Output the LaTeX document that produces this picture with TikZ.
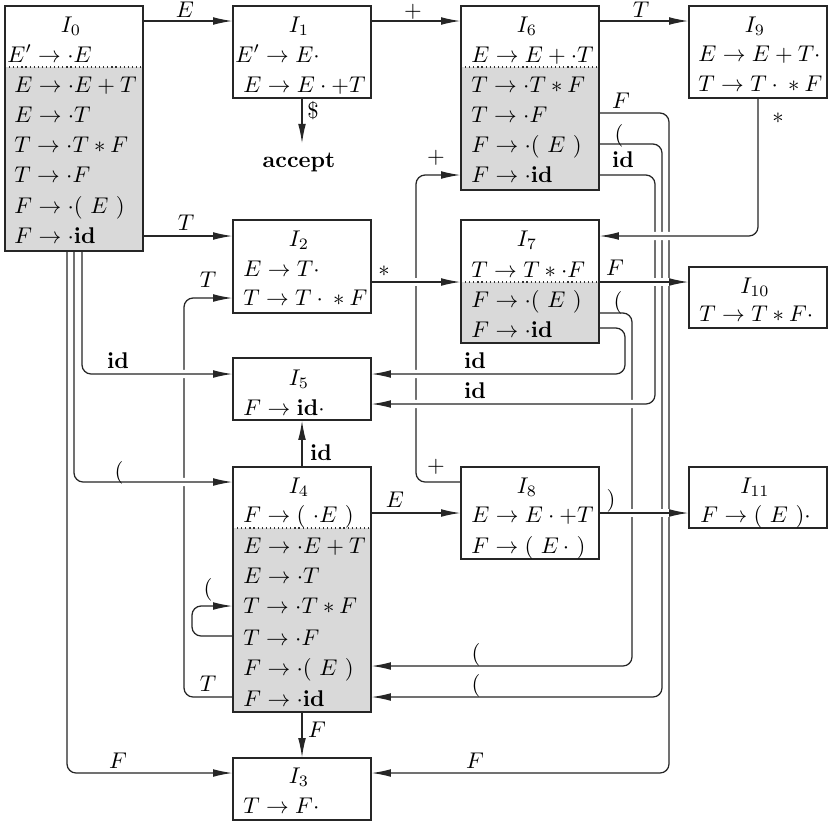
\documentclass[tikz,border=0pt]{standalone}
\usetikzlibrary{arrows.meta,fit}
\pgfdeclarelayer{fg}
\pgfsetlayers{main,fg}
\tikzset{
  statebox/.style={draw=black!85, line width=0.55pt, inner sep=0pt},
  closure/.style={fill=black!15},
  sepline/.style={draw=black!80, line width=0.55pt, dash pattern=on 0.5pt off 1.3pt},
  item/.style={anchor=base west, inner sep=0pt},
  ttl/.style={anchor=base, inner sep=0pt},
  lbl/.style={anchor=base, inner sep=0pt},
  edge/.style={draw=black!85, line width=0.55pt, rounded corners=4pt,
     -{Latex[length=8.5pt,width=3.4pt]},
     preaction={draw=white, line width=3.6pt, -}},
}
\begin{document}
\begin{tikzpicture}[x=0.44pt,y=-0.44pt]
\path[fill=white,use as bounding box] (0,0) rectangle (828,823);

\begin{pgfonlayer}{fg}
% ---------- I0
\fill[closure] (5,67) rectangle (143,251);
\draw[sepline] (5,67) -- (143,67);
\node[statebox, fit={(5,6) (143,251)}] (I0) {};
\node[ttl] (t0) at (71,32) {$I_0$};
\node[item] (I0a) at (7,62) {$E'\to\cdot E$};
\node[item] (I0b) at (14,92) {$E\to\cdot E+T$};
\node[item] (I0c) at (14,122) {$E\to\cdot T$};
\node[item] (I0d) at (14,152) {$T\to\cdot T*F$};
\node[item] (I0e) at (14,182) {$T\to\cdot F$};
\node[item] (I0f) at (14,213) {$F\to\cdot(\ E\ )$};
\node[item] (I0g) at (14,243) {$F\to\cdot\mathbf{id}$};
% ---------- I1
\node[statebox, fit={(233,6) (371,98)}] (I1) {};
\node[ttl] (t1) at (299,32) {$I_1$};
\node[item] (I1a) at (235,62) {$E'\to E\cdot$};
\node[item] (I1b) at (243,92) {$E\to E\cdot+T$};
% ---------- I6
\fill[closure] (461,67) rectangle (599,190);
\draw[sepline] (461,67) -- (599,67);
\node[statebox, fit={(461,6) (599,190)}] (I6) {};
\node[ttl] (t6) at (527,32) {$I_6$};
\node[item] (I6a) at (471,62) {$E\to E+\cdot T$};
\node[item] (I6b) at (471,92) {$T\to\cdot T*F$};
\node[item] (I6c) at (471,122) {$T\to\cdot F$};
\node[item] (I6d) at (471,152) {$F\to\cdot(\ E\ )$};
\node[item] (I6e) at (471,182) {$F\to\cdot\mathbf{id}$};
% ---------- I9
\node[statebox, fit={(689,6) (827,98)}] (I9) {};
\node[ttl] (t9) at (755,32) {$I_9$};
\node[item] (I9a) at (698,61) {$E\to E+T\cdot$};
\node[item] (I9b) at (698,91) {$T\to T\cdot{}*F$};
% ---------- I2
\node[statebox, fit={(233,220) (371,313)}] (I2) {};
\node[ttl] (t2) at (299,246) {$I_2$};
\node[item] (I2a) at (243,276) {$E\to T\cdot$};
\node[item] (I2b) at (243,305) {$T\to T\cdot{}*F$};
% ---------- I7
\fill[closure] (461,282) rectangle (599,343);
\draw[sepline] (461,282) -- (599,282);
\node[statebox, fit={(461,220) (599,343)}] (I7) {};
\node[ttl] (t7) at (527,246) {$I_7$};
\node[item] (I7a) at (471,277) {$T\to T*\cdot F$};
\node[item] (I7b) at (471,307) {$F\to\cdot(\ E\ )$};
\node[item] (I7c) at (471,337) {$F\to\cdot\mathbf{id}$};
% ---------- I10
\node[statebox, fit={(689,267) (827,328)}] (I10) {};
\node[ttl] (t10) at (755,293) {$I_{10}$};
\node[item] (I10a) at (699,321) {$T\to T*F\cdot$};
% ---------- I5
\node[statebox, fit={(233,358) (371,420)}] (I5) {};
\node[ttl] (t5) at (299,385) {$I_5$};
\node[item] (I5a) at (243,415) {$F\to\mathbf{id}\cdot$};
% ---------- I4
\fill[closure] (233,528) rectangle (371,712);
\draw[sepline] (233,528) -- (371,528);
\node[statebox, fit={(233,467) (371,712)}] (I4) {};
\node[ttl] (t4) at (299,493) {$I_4$};
\node[item] (I4a) at (243,522) {$F\to(\ \cdot E\ )$};
\node[item] (I4b) at (243,553) {$E\to\cdot E+T$};
\node[item] (I4c) at (243,583) {$E\to\cdot T$};
\node[item] (I4d) at (243,613) {$T\to\cdot T*F$};
\node[item] (I4e) at (243,645) {$T\to\cdot F$};
\node[item] (I4f) at (243,675) {$F\to\cdot(\ E\ )$};
\node[item] (I4g) at (243,706) {$F\to\cdot\mathbf{id}$};
% ---------- I8
\node[statebox, fit={(461,467) (599,559)}] (I8) {};
\node[ttl] (t8) at (527,493) {$I_8$};
\node[item] (I8a) at (471,522) {$E\to E\cdot+T$};
\node[item] (I8b) at (471,553) {$F\to(\ E\,\cdot\ )$};
% ---------- I11
\node[statebox, fit={(689,467) (827,528)}] (I11) {};
\node[ttl] (t11) at (755,493) {$I_{11}$};
\node[item] (I11a) at (700,522) {$F\to(\ E\ )\cdot$};
% ---------- I3
\node[statebox, fit={(233,758) (371,820)}] (I3) {};
\node[ttl] (t3) at (299,783) {$I_3$};
\node[item] (I3a) at (243,813) {$T\to F\cdot$};
% ---------- accept
\node[anchor=base, inner xsep=0pt, inner ysep=3.9pt] (accept) at (299,167) {\textbf{accept}};

% ---------- labels
\node[lbl] (lE1) at (185,17) {$E$};
\node[lbl] (lP1) at (413,17) {$+$};
\node[lbl] (lT1) at (641,17) {$T$};
\node[lbl] (lDol) at (313,118) {\$};
\node[lbl] (lT2) at (186,230) {$T$};
\node[lbl] (lS1) at (384,276) {$*$};
\node[lbl] (lS2) at (778,123) {$*$};
\node[lbl] (lF7) at (615,275) {$F$};
\node[lbl] (lPar7) at (618,308) {$($};
\node[lbl] (lF6) at (621,108) {$F$};
\node[lbl] (lPar6) at (619,141) {$($};
\node[lbl] (lid6) at (623,167) {$\mathbf{id}$};
\node[lbl] (lP8a) at (436,163) {$+$};
\node[lbl] (lP8b) at (436,472) {$+$};
\node[lbl] (lid7) at (475,368) {$\mathbf{id}$};
\node[lbl] (lid6b) at (475,398) {$\mathbf{id}$};
\node[lbl] (lT4a) at (208,287) {$T$};
\node[lbl] (lT4b) at (208,691) {$T$};
\node[lbl] (lid0) at (118,368) {$\mathbf{id}$};
\node[lbl] (lPar0) at (119,478) {$($};
\node[lbl] (lid4) at (321,460) {$\mathbf{id}$};
\node[lbl] (lE4) at (395,507) {$E$};
\node[lbl] (lRpar) at (611,506) {$)$};
\node[lbl] (lParL) at (208,595) {$($};
\node[lbl] (lF4) at (317,737) {$F$};
\node[lbl] (lF0) at (118,768) {$F$};
\node[lbl] (lF6b) at (475,768) {$F$};
\node[lbl] (lPar7b) at (476,660) {$($};
\node[lbl] (lPar6b) at (476,691) {$($};
\end{pgfonlayer}

% ---------- connectors (later ones pass over earlier ones)
% lower layer: long vertical runs that are broken by crossings
\draw[edge] (I8.west |- 0,482) -- (416,482) -- (416,175) -- (I6.west |- 0,175);
\draw[edge] (I4.west |- 0,697) -- (184,697) -- (184,298) -- (I2.west |- 0,298);
\draw[edge] (I7.east |- 0,313) -- (632,313) -- (632,666) -- (I4.east |- 0,666);
\draw[edge] (I6.east |- 0,144) -- (662,144) -- (662,697) -- (I4.east |- 0,697);
\draw[edge] (I6.east |- 0,113) -- (669,113) -- (669,773) -- (I3.east |- 0,773);
\draw[edge] (I4.west |- 0,636) -- (192,636) -- (192,606) -- (I4.west |- 0,606);
\draw[edge] (I0.south -| 67,0) -- (67,773) -- (I3.west |- 0,773);
% middle layer
\draw[edge] (I7.east |- 0,328) -- (625,328) -- (625,374) -- (I5.east |- 0,374);
\draw[edge] (I6.east |- 0,175) -- (655,175) -- (655,404) -- (I5.east |- 0,404);
\draw[edge] (I0.south -| 82,0) -- (82,374) -- (I5.west |- 0,374);
\draw[edge] (I0.south -| 74,0) -- (74,482) -- (I4.west |- 0,482);
% top layer: straight runs
\draw[edge] (I0.east |- 0,21) -- (I1.west |- 0,21);
\draw[edge] (I1.east |- 0,21) -- (I6.west |- 0,21);
\draw[edge] (I6.east |- 0,21) -- (I9.west |- 0,21);
\draw[edge] (I0.east |- 0,236) -- (I2.west |- 0,236);
\draw[edge] (I2.east |- 0,282) -- (I7.west |- 0,282);
\draw[edge] (I7.east |- 0,282) -- (I10.west |- 0,282);
\draw[edge] (I4.east |- 0,513) -- (I8.west |- 0,513);
\draw[edge] (I8.east |- 0,513) -- (I11.west |- 0,513);
\draw[edge] (I9.south) -- (I9.south |- 0,236) -- (I7.east |- 0,236);
\draw[edge] (I1.south) -- (I1.south |- accept.north);
\draw[edge] (I4.north) -- (I5.south);
\draw[edge] (I4.south) -- (I3.north);
\end{tikzpicture}
\end{document}
